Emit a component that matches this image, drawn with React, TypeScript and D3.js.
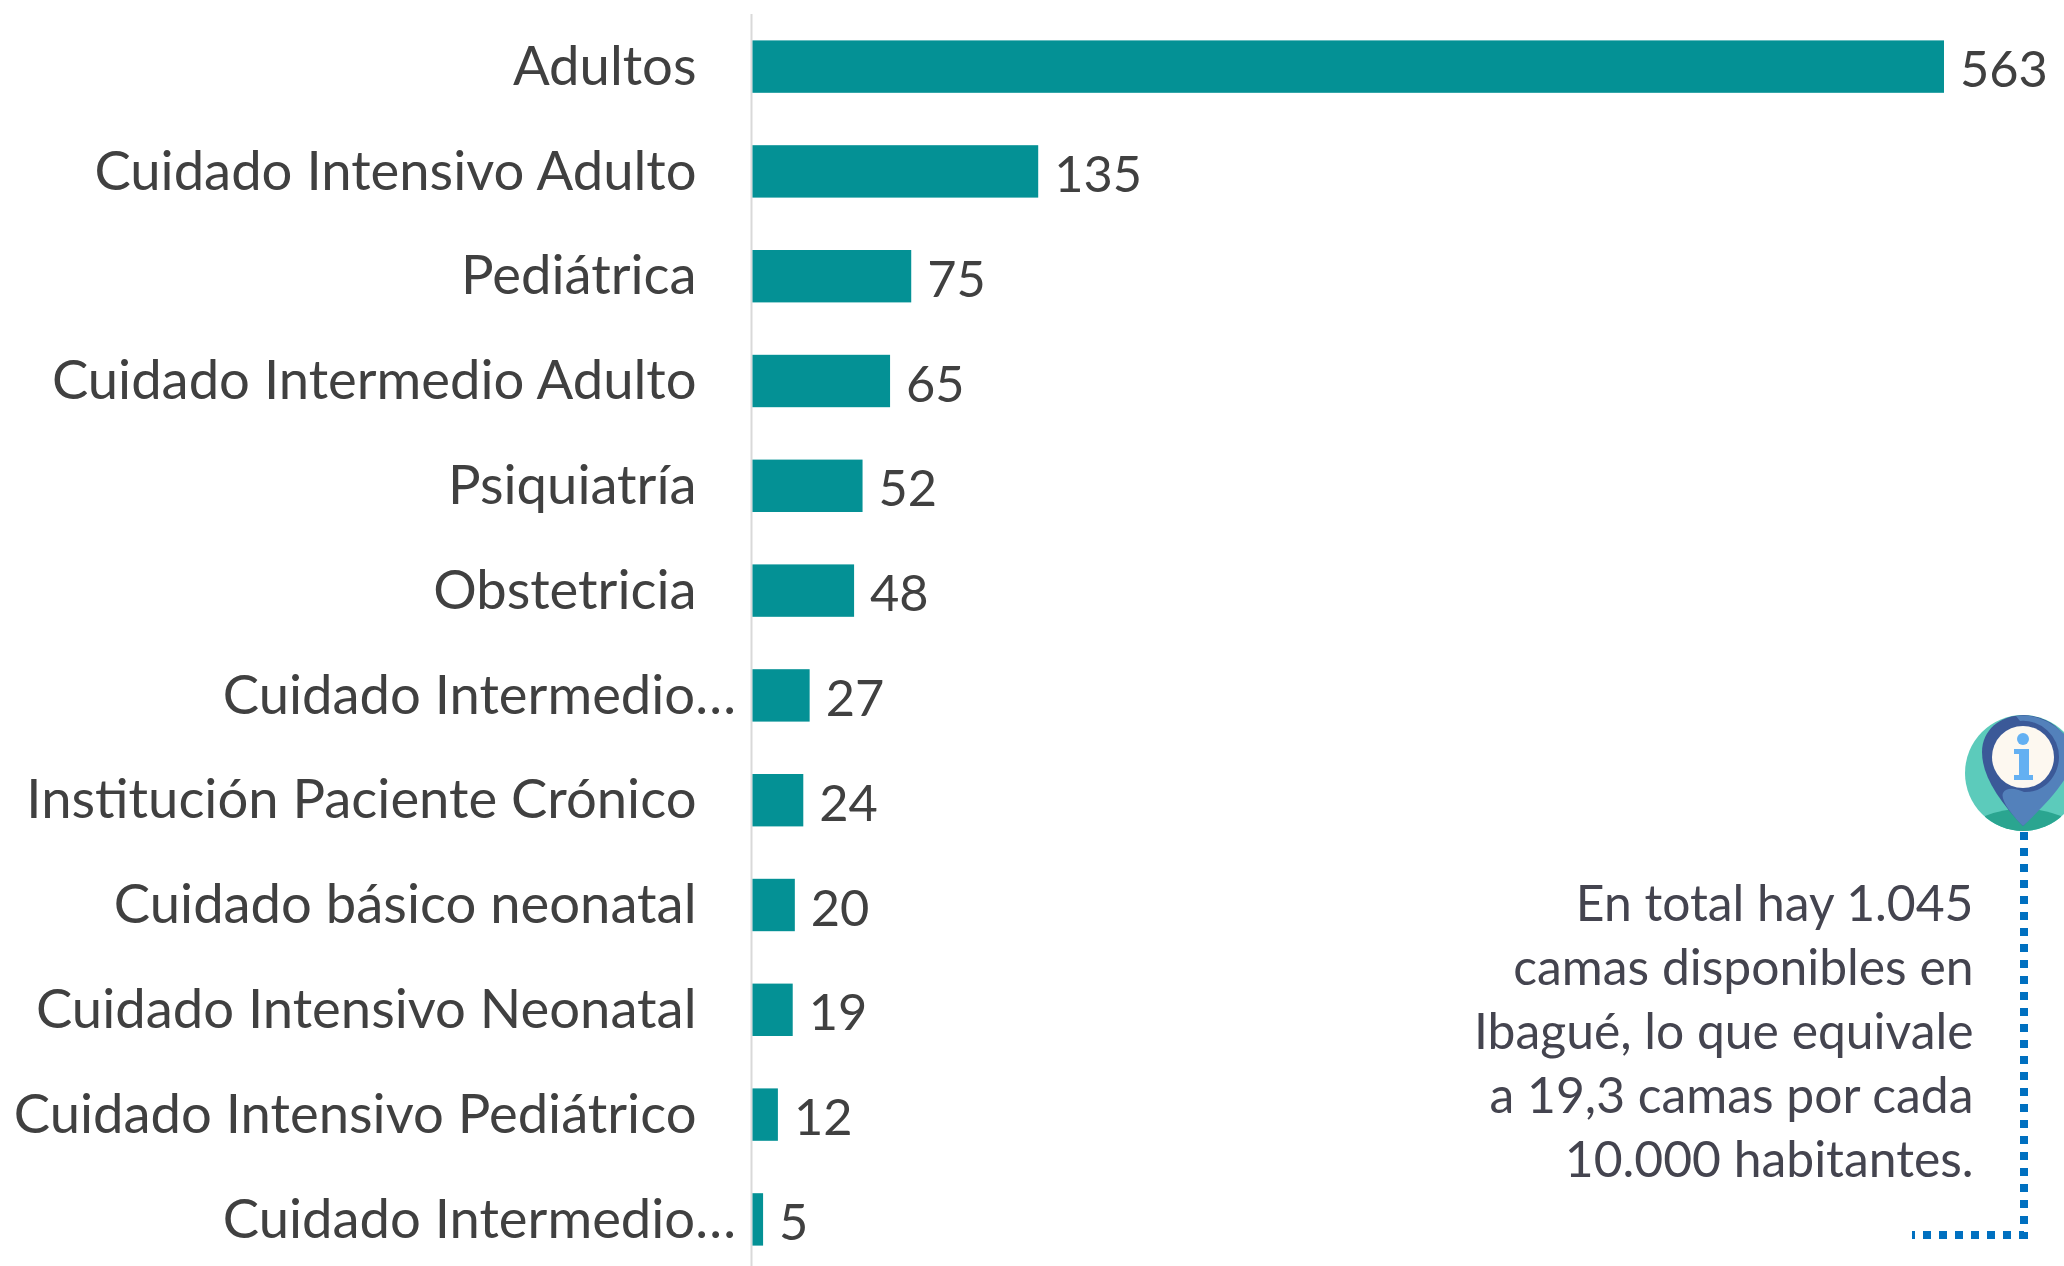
import React from "react";
import * as d3 from "d3";

const categories = [
  "Adultos", "Cuidado Intensivo Adulto", "Pediátrica", "Cuidado Intermedio Adulto",
  "Psiquiatría", "Obstetricia", "Cuidado Intermedio...", "Institución Paciente Crónico",
  "Cuidado básico neonatal", "Cuidado Intensivo Neonatal", "Cuidado Intensivo Pediátrico", "Cuidado Intermedio...",
];
const values = [563, 135, 75, 65, 52, 48, 27, 24, 20, 19, 12, 5];
const noteLines = [
  "En total hay 1.045",
  "camas disponibles en",
  "Ibagué, lo que equivale",
  "a 19,3 camas por cada",
  "10.000 habitantes.",
];

const FONT = "Lato, Carlito, sans-serif";

export default function App() {
  const x = d3.scaleLinear().domain([0, 563]).range([752.5, 1944]);
  const y = d3.scaleBand<number>().domain(d3.range(categories.length)).range([14.2, 1271.8]).paddingInner(0.5).paddingOuter(0.25);
  const bh = y.bandwidth();
  return (
    <svg width={2064} height={1266} style={{ position: "absolute", left: 0, top: 0, background: "#fff" }} fontFamily={FONT}>
      <line x1={751.5} x2={751.5} y1={14} y2={1266} stroke="#d9d9d9" strokeWidth={2} />
      {categories.map((c, i) => {
        const cy = y(i)! + bh / 2;
        const lastTrunc = c.endsWith("...");
        return (
          <g key={i}>
            <rect x={x(0)} y={y(i)} width={x(values[i]) - x(0)} height={bh} fill="#049195" />
            <text x={lastTrunc ? 736 : 696.5} y={cy + 18.2} textAnchor="end" fontSize={54.4} fill="#404040">{lastTrunc ? c.replace("...", "…") : c}</text>
            <text x={x(values[i]) + 16} y={cy + 20.5} fontSize={50.5} fill="#404040">{values[i]}</text>
          </g>
        );
      })}
      {noteLines.map((l, i) => (
        <text key={l} x={1973.5} y={921 + i * 64} textAnchor="end" fontSize={49.8} fill="#44444f">{l}</text>
      ))}
      <path d="M2024,832 V1235 H1912" fill="none" stroke="#0070c0" strokeWidth={8} strokeDasharray="8 8" />
      <g>
        <clipPath id="c"><circle cx={2023} cy={773} r={58} /></clipPath>
        <g clipPath="url(#c)">
          <rect x={1960} y={710} width={110} height={125} fill="#5ccbbb" />
          <path d="M1985,816 Q2023,801 2061,816 L2061,835 L1985,835 Z" fill="#2aa590" />
          <path d="M2023,826 C1998,800 1982,775 1982,752 C1982,730 2000,715 2024,715 C2050,715 2070,735 2070,752 C2070,775 2048,800 2023,826 Z" fill="#3b5998" />
          <path d="M2016,716 Q2045,712 2070,740 L2070,770 C2060,790 2040,810 2023,826 C2012,815 2000,800 2003,793 C2006,787 2016,788 2024,792 C2045,793 2059,775 2059,757 A36,36 0 0 0 2020,721 Z" fill="#5381bb" />
          <circle cx={2023} cy={757} r={31} fill="#fdf8f0" />
          <circle cx={2023} cy={739} r={6} fill="#64b0f2" />
          <path d="M2014,749 H2029 V775 H2033 V780 H2014 V775 H2019 V754 H2014 Z" fill="#64b0f2" />
        </g>
      </g>
    </svg>
  );
}
